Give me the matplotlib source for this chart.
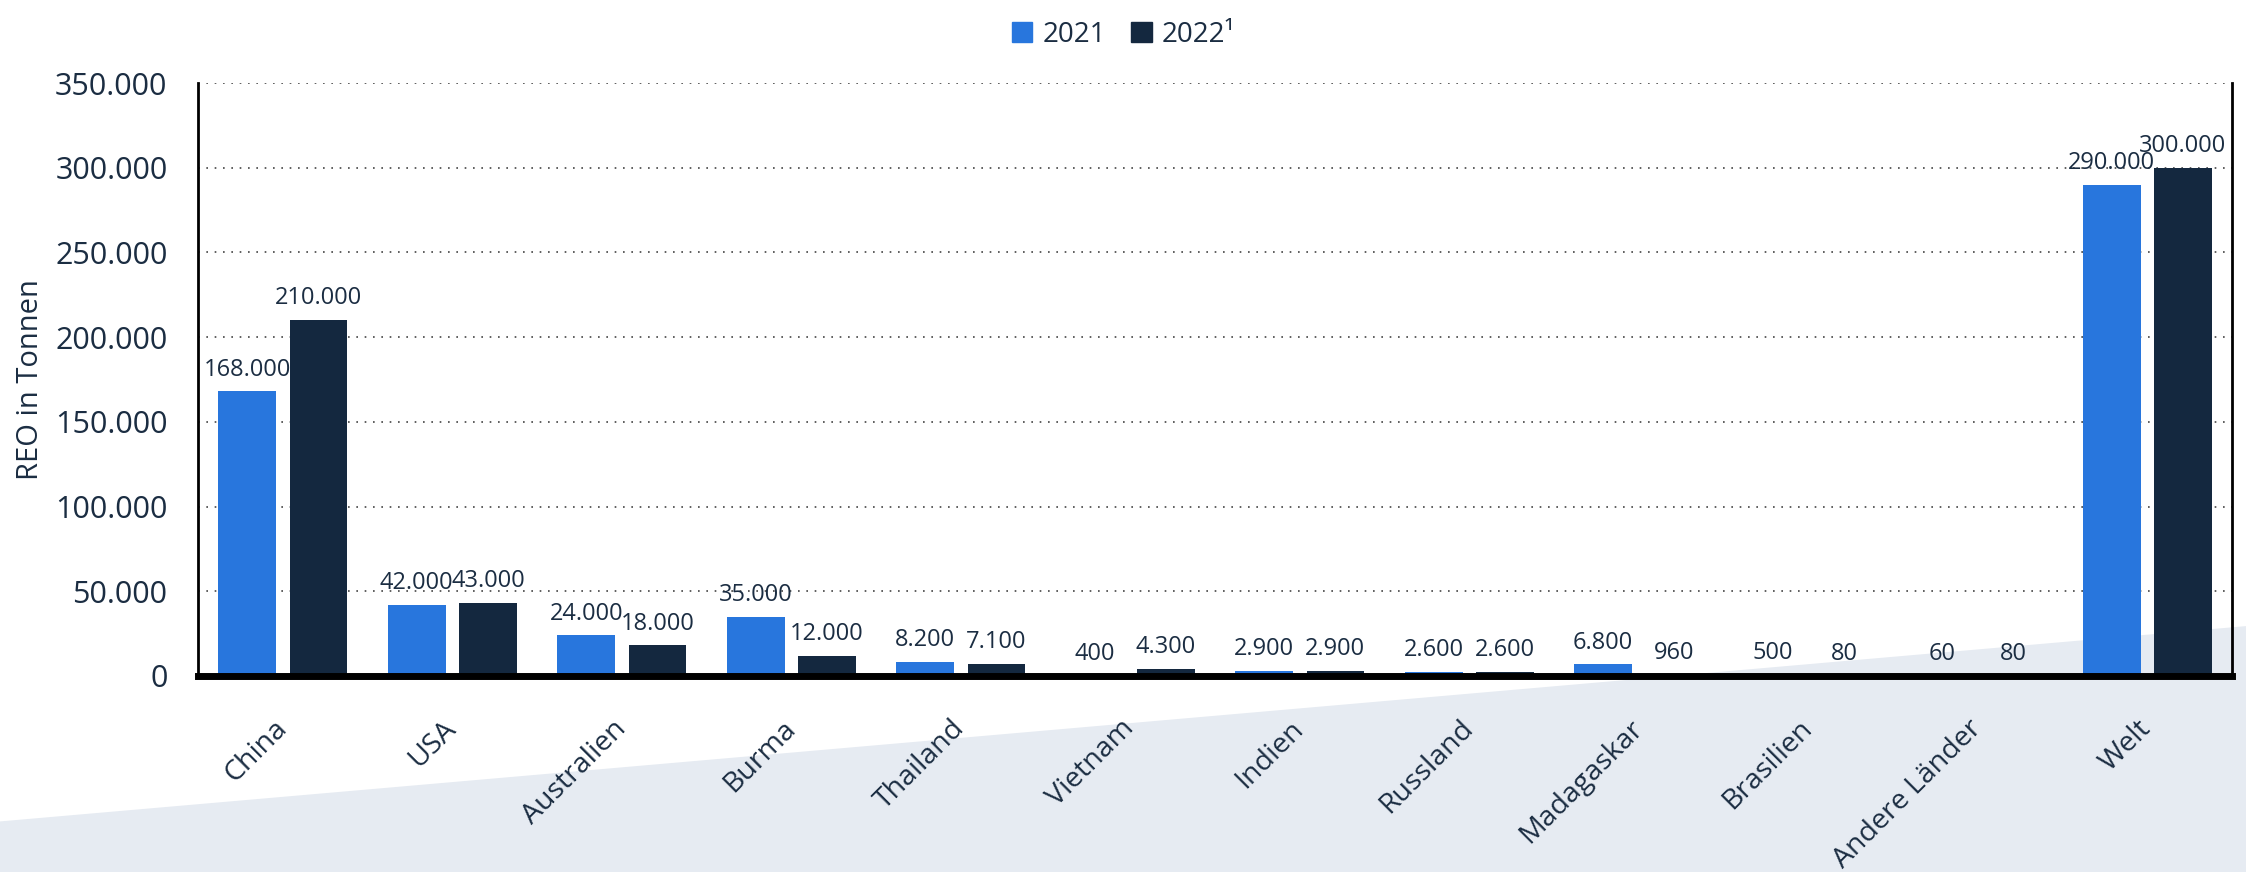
import matplotlib
matplotlib.use("Agg")
import matplotlib.pyplot as plt
import matplotlib.transforms as mtransforms
from matplotlib.patches import Polygon, Patch
from matplotlib.ticker import FuncFormatter, MultipleLocator
import numpy as np

plt.rcParams['font.family'] = ['Open Sans', 'DejaVu Sans']

laender = ['China', 'USA', 'Australien', 'Burma', 'Thailand', 'Vietnam', 'Indien',
           'Russland', 'Madagaskar', 'Brasilien', 'Andere Länder', 'Welt']
werte_2021 = [168000, 42000, 24000, 35000, 8200, 400, 2900, 2600, 6800, 500, 60, 290000]
werte_2022 = [210000, 43000, 18000, 12000, 7100, 4300, 2900, 2600, 960, 80, 80, 300000]
jahre = ['2021', '2022¹']

blau = '#2876dd'
navy = '#14283f'
textfarbe = '#1b2d42'


def de_format(v, pos=None):
    # Tausenderpunkt statt Komma
    return f'{int(v):,}'.replace(',', '.')


fig = plt.figure(figsize=(22.46, 8.72), dpi=100)

# hellgrauer Keil im Hintergrund
keil = Polygon([(0, 0), (0, 0.058), (1, 0.282), (1, 0)], closed=True,
               transform=fig.transFigure, facecolor='#e6ebf2', edgecolor='none', zorder=-5)
fig.patches.append(keil)

ax = fig.add_axes([0.0882, 0.2248, 0.9056, 0.68])
ax.patch.set_alpha(0)

x = np.arange(len(laender))
breite = 0.34
versatz = 0.21
b1 = ax.bar(x - versatz, werte_2021, breite, color=blau, zorder=3)
b2 = ax.bar(x + versatz, werte_2022, breite, color=navy, zorder=3)

for balken, werte in ((b1, werte_2021), (b2, werte_2022)):
    for r, v in zip(balken, werte):
        ax.annotate(de_format(v), (r.get_x() + r.get_width() / 2, v),
                    xytext=(0, 7), textcoords='offset points', ha='center', va='bottom',
                    fontsize=17, color=textfarbe, zorder=4)

ax.set_xlim(-0.5, len(laender) - 0.5)
ax.set_ylim(0, 350000)
ax.yaxis.set_major_locator(MultipleLocator(50000))
ax.yaxis.set_major_formatter(FuncFormatter(de_format))
ax.grid(axis='y', linestyle=(0, (1, 4)), color='#444444', linewidth=1.2, zorder=1)

ax.set_xticks(x)
ax.set_xticklabels(laender, rotation=45, ha='right', va='center',
                   rotation_mode='anchor', fontsize=20.5, color=textfarbe)
verschiebung = mtransforms.ScaledTranslation(15 / 100, 0, fig.dpi_scale_trans)
for lbl in ax.get_xticklabels():
    lbl.set_transform(lbl.get_transform() + verschiebung)

ax.tick_params(axis='y', length=0, pad=22, labelsize=22, labelcolor=textfarbe)
ax.tick_params(axis='x', length=0, pad=35)
ax.set_ylabel('REO in Tonnen', fontsize=21, color=textfarbe, labelpad=7)

for s in ('left', 'right'):
    ax.spines[s].set_color('black')
    ax.spines[s].set_linewidth(2)
ax.spines['top'].set_visible(False)
ax.spines['bottom'].set_color('black')
ax.spines['bottom'].set_linewidth(5)
ax.spines['bottom'].set_zorder(5)

handles = [Patch(color=blau), Patch(color=navy)]
fig.legend(handles, jahre, loc='upper center', bbox_to_anchor=(0.5, 1.005), ncol=2,
           frameon=False, fontsize=20, handlelength=0.75, handleheight=0.75,
           handletextpad=0.35, columnspacing=0.9, labelcolor=textfarbe)

fig.savefig('out.png', dpi=100)
